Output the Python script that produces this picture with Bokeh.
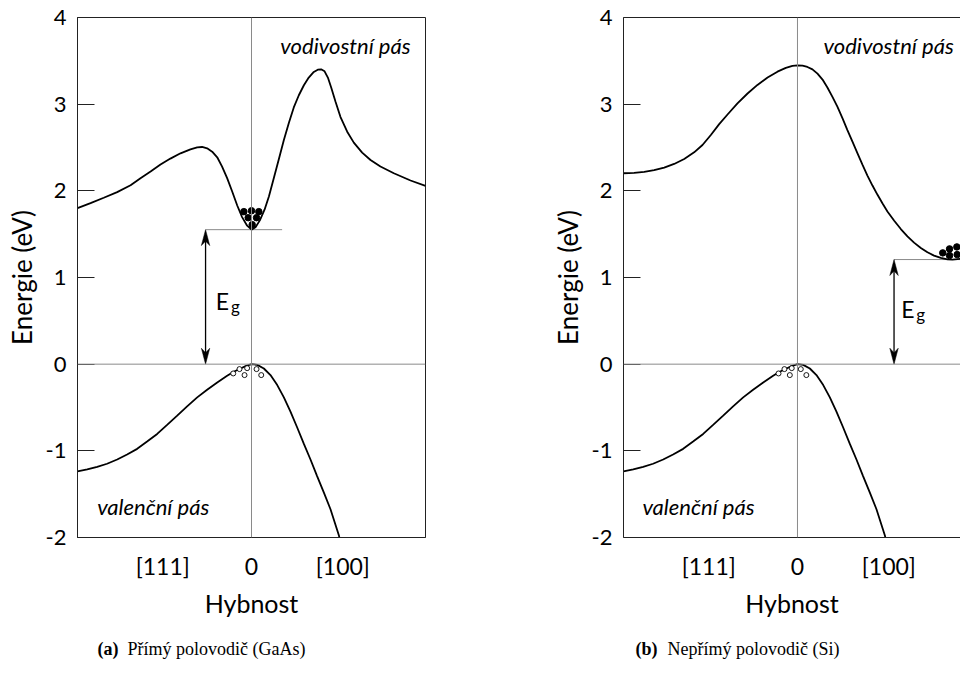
from bokeh.plotting import figure
from bokeh.layouts import row, column
from bokeh.models import Range1d, FixedTicker, Span, Label, LinearAxis
from bokeh.embed import file_html
from bokeh.resources import INLINE

# ---------------- data ----------------
y_ticks = [-2, -1, 0, 1, 2, 3, 4]
y_tick_labels = ["-2", "-1", "0", "1", "2", "3", "4"]
x_ticks = [-0.51, 0.0, 0.525]
x_tick_labels = ["[111]", "0", "[100]"]

# GaAs conduction band
x_cb_gaas = [-1.0, -0.925, -0.849, -0.772, -0.695, -0.638, -0.580, -0.523, -0.466, -0.408,
             -0.351, -0.312, -0.284, -0.255, -0.226, -0.197, -0.169, -0.140, -0.111, -0.082,
             -0.054, -0.025, 0.0, 0.023, 0.048, 0.075, 0.100, 0.128, 0.157, 0.186,
             0.215, 0.243, 0.272, 0.301, 0.329, 0.358, 0.381, 0.400, 0.420, 0.439,
             0.458, 0.483, 0.511, 0.550, 0.588, 0.636, 0.684, 0.741, 0.818, 0.914, 1.0]
e_cb_gaas = [1.801, 1.858, 1.920, 1.985, 2.065, 2.146, 2.222, 2.303, 2.372, 2.433,
             2.479, 2.502, 2.506, 2.490, 2.452, 2.387, 2.280, 2.146, 1.992, 1.831,
             1.697, 1.598, 1.552, 1.579, 1.659, 1.782, 1.935, 2.146, 2.364, 2.586,
             2.785, 2.962, 3.103, 3.218, 3.307, 3.372, 3.398, 3.402, 3.379, 3.307,
             3.192, 3.027, 2.854, 2.682, 2.556, 2.441, 2.356, 2.280, 2.203, 2.119, 2.057]

# valence band (same shape in both panels)
x_vb = [-1.0, -0.944, -0.887, -0.830, -0.772, -0.715, -0.657, -0.600, -0.542, -0.485,
        -0.427, -0.370, -0.312, -0.255, -0.197, -0.140, -0.102, -0.063, -0.034, 0.0,
        0.033, 0.071, 0.109, 0.148, 0.186, 0.224, 0.262, 0.301, 0.339, 0.377,
        0.416, 0.454, 0.502, 0.505]
e_vb = [-1.238, -1.215, -1.184, -1.149, -1.100, -1.042, -0.977, -0.893, -0.805, -0.701,
        -0.594, -0.487, -0.383, -0.295, -0.211, -0.134, -0.088, -0.050, -0.023, 0.0,
        -0.008, -0.050, -0.126, -0.241, -0.383, -0.548, -0.728, -0.920, -1.100, -1.291,
        -1.483, -1.674, -1.973, -2.0]

# Si conduction band
x_cb_si = [-1.0, -0.939, -0.881, -0.824, -0.766, -0.709, -0.651, -0.594, -0.546, -0.498,
           -0.450, -0.402, -0.345, -0.287, -0.230, -0.172, -0.115, -0.067, -0.029, 0.0,
           0.029, 0.057, 0.086, 0.115, 0.144, 0.172, 0.201, 0.230, 0.259, 0.287,
           0.316, 0.345, 0.374, 0.402, 0.431, 0.460, 0.489, 0.517, 0.556, 0.594,
           0.632, 0.670, 0.709, 0.747, 0.785, 0.824, 0.862, 0.891, 0.939]
e_cb_si = [2.203, 2.207, 2.218, 2.238, 2.268, 2.310, 2.368, 2.444, 2.529, 2.644,
           2.770, 2.881, 3.008, 3.123, 3.222, 3.307, 3.375, 3.418, 3.441, 3.448,
           3.444, 3.429, 3.402, 3.352, 3.284, 3.192, 3.084, 2.969, 2.835, 2.701,
           2.567, 2.433, 2.299, 2.176, 2.061, 1.954, 1.854, 1.762, 1.655, 1.559,
           1.475, 1.402, 1.341, 1.291, 1.253, 1.226, 1.210, 1.207, 1.215]

# band gaps, arrows, level lines
eg_gaas = 1.552
eg_si = 1.207
arrow_x_gaas = -0.264
arrow_x_si = 0.555
ec_line_gaas = [-0.264, 0.176]
ec_line_si = [0.555, 0.94]

# carriers
el_gaas_x = [-0.044, 0.0, 0.042, -0.019, 0.029, 0.004]
el_gaas_e = [1.76, 1.77, 1.76, 1.69, 1.69, 1.61]
el_si_x = [0.835, 0.874, 0.916, 0.874, 0.918]
el_si_e = [1.284, 1.33, 1.353, 1.253, 1.264]
h_gaas_x = [-0.105, -0.069, -0.025, -0.04, 0.029, 0.056]
h_si_x = [-0.109, -0.075, -0.033, -0.044, 0.019, 0.051]
h_e = [-0.107, -0.057, -0.046, -0.126, -0.057, -0.126]

captions = [("(a)", "Přímý polovodič (GaAs)"), ("(b)", "Nepřímý polovodič (Si)")]

SANS = "Lato"
SERIF = "Liberation Serif"
FRAME = "#222222"
GRID = "#8a8a8a"

PX_X = 174.0  # pixels per x unit (for arrow head size)
PX_Y = 87.0   # pixels per eV
PANEL_H = 620
CAP_H = 55


def arrow(p, x0, top):
    hl = 16 / PX_Y
    hw = 4.2 / PX_X
    p.segment(x0, hl * 0.6, x0, top - hl * 0.6, line_color="black", line_width=1.3)
    p.patches([[x0, x0 + hw, x0, x0 - hw], [x0, x0 + hw, x0, x0 - hw]],
              [[top, top - hl, top - 0.72 * hl, top - hl], [0, hl, 0.72 * hl, hl]],
              fill_color="black", line_color="black", line_width=0.5)


def panel(width, border_left, border_right, x_end, cb_x, cb_e, eg, ax_x, ec_line,
          el_x, el_e, h_x, e_pos, g_pos, vod_x, val_x, outline):
    p = figure(width=width, height=PANEL_H, x_range=Range1d(-1, x_end), y_range=Range1d(-2, 4),
               output_backend="svg", toolbar_location=None,
               min_border_left=border_left, min_border_right=border_right,
               min_border_top=17, min_border_bottom=PANEL_H - 539)
    p.grid.visible = False
    p.background_fill_color = "white"
    p.border_fill_color = "white"
    p.outline_line_color = FRAME if outline else None
    p.outline_line_width = 1

    ya = p.yaxis[0]
    ya.ticker = FixedTicker(ticks=y_ticks)
    ya.major_label_overrides = dict(zip(y_ticks, y_tick_labels))
    ya.major_tick_in = 17
    ya.major_tick_out = 0
    ya.minor_tick_line_color = None
    ya.axis_line_color = FRAME
    ya.major_tick_line_color = FRAME
    ya.major_label_text_font = SANS
    ya.major_label_text_font_size = "22px"
    ya.major_label_text_color = "black"
    ya.major_label_standoff = 11
    ya.axis_label = "Energie (eV)"
    ya.axis_label_text_font = SANS
    ya.axis_label_text_font_size = "26px"
    ya.axis_label_text_font_style = "normal"
    ya.axis_label_text_color = "black"
    ya.axis_label_standoff = 5

    xa = p.xaxis[0]
    xa.ticker = FixedTicker(ticks=x_ticks)
    xa.major_label_overrides = dict(zip(x_ticks, x_tick_labels))
    xa.major_tick_line_color = None
    xa.minor_tick_line_color = None
    xa.axis_line_color = FRAME
    xa.major_label_text_font = SANS
    xa.major_label_text_font_size = "23px"
    xa.major_label_text_color = "black"
    xa.major_label_standoff = 8
    xa.axis_label = "Hybnost"
    xa.axis_label_text_font = SANS
    xa.axis_label_text_font_size = "25px"
    xa.axis_label_text_font_style = "normal"
    xa.axis_label_text_color = "black"
    xa.axis_label_standoff = 5

    if not outline:
        top = LinearAxis(ticker=FixedTicker(ticks=[]), axis_line_color=FRAME,
                         major_tick_line_color=None, minor_tick_line_color=None)
        p.add_layout(top, "above")

    p.add_layout(Span(location=0, dimension="width", line_color=GRID, line_width=1))
    p.add_layout(Span(location=0, dimension="height", line_color=GRID, line_width=1))
    p.segment(ec_line[0], eg, ec_line[1], eg, line_color=GRID, line_width=1)

    p.line(cb_x, cb_e, line_color="black", line_width=1.8)
    p.line(x_vb, e_vb, line_color="black", line_width=1.8)

    arrow(p, ax_x, eg)

    p.scatter(el_x, el_e, size=6.5, fill_color="black", line_color="black")
    p.scatter(h_x, h_e, size=5, fill_color="white", line_color="black", line_width=0.9)

    p.add_layout(Label(x=e_pos[0], y=e_pos[1], text="E", text_font=SANS,
                       text_font_size="23px", text_baseline="middle", text_align="left",
                       text_color="black"))
    p.add_layout(Label(x=g_pos[0], y=g_pos[1], text="g", text_font=SANS,
                       text_font_size="17px", text_baseline="middle", text_align="left",
                       text_color="black"))

    p.add_layout(Label(x=vod_x, y=3.68, text="vodivostní pás", text_font=SANS,
                       text_font_size="22px", text_font_style="italic", text_color="black",
                       text_align="right", text_baseline="middle"))
    p.add_layout(Label(x=val_x, y=-1.647, text="valenční pás", text_font=SANS,
                       text_font_size="22px", text_font_style="italic", text_color="black",
                       text_align="left", text_baseline="middle"))
    return p


def caption(width, x1, x2, cap):
    c = figure(width=width, height=CAP_H, x_range=Range1d(0, width), y_range=Range1d(0, CAP_H),
               output_backend="svg", toolbar_location=None, min_border=0)
    c.axis.visible = False
    c.grid.visible = False
    c.outline_line_color = None
    c.add_layout(Label(x=x1, y=CAP_H - 28, text=cap[0], text_font=SERIF, text_font_size="18px",
                       text_font_style="bold", text_color="black",
                       text_align="left", text_baseline="middle"))
    c.add_layout(Label(x=x2, y=CAP_H - 28, text=cap[1], text_font=SERIF, text_font_size="18px",
                       text_color="black", text_align="left", text_baseline="middle"))
    return c


p1 = panel(540, 77, 115, 1.0, x_cb_gaas, e_cb_gaas, eg_gaas, arrow_x_gaas, ec_line_gaas,
           el_gaas_x, el_gaas_e, h_gaas_x, (-0.205, 0.73), (-0.118, 0.67), 0.914, -0.887, True)
p2 = panel(420, 83, 0, 0.937, x_cb_si, e_cb_si, eg_si, arrow_x_si, ec_line_si,
           el_si_x, el_si_e, h_si_x, (0.597, 0.632), (0.682, 0.575), 0.898, -0.891, False)
c1 = caption(540, 97, 127, captions[0])
c2 = caption(420, 95, 127, captions[1])

layout = column(row(p1, p2, spacing=0), row(c1, c2, spacing=0), spacing=0)
open("out.html", "w").write(file_html(layout, INLINE))
